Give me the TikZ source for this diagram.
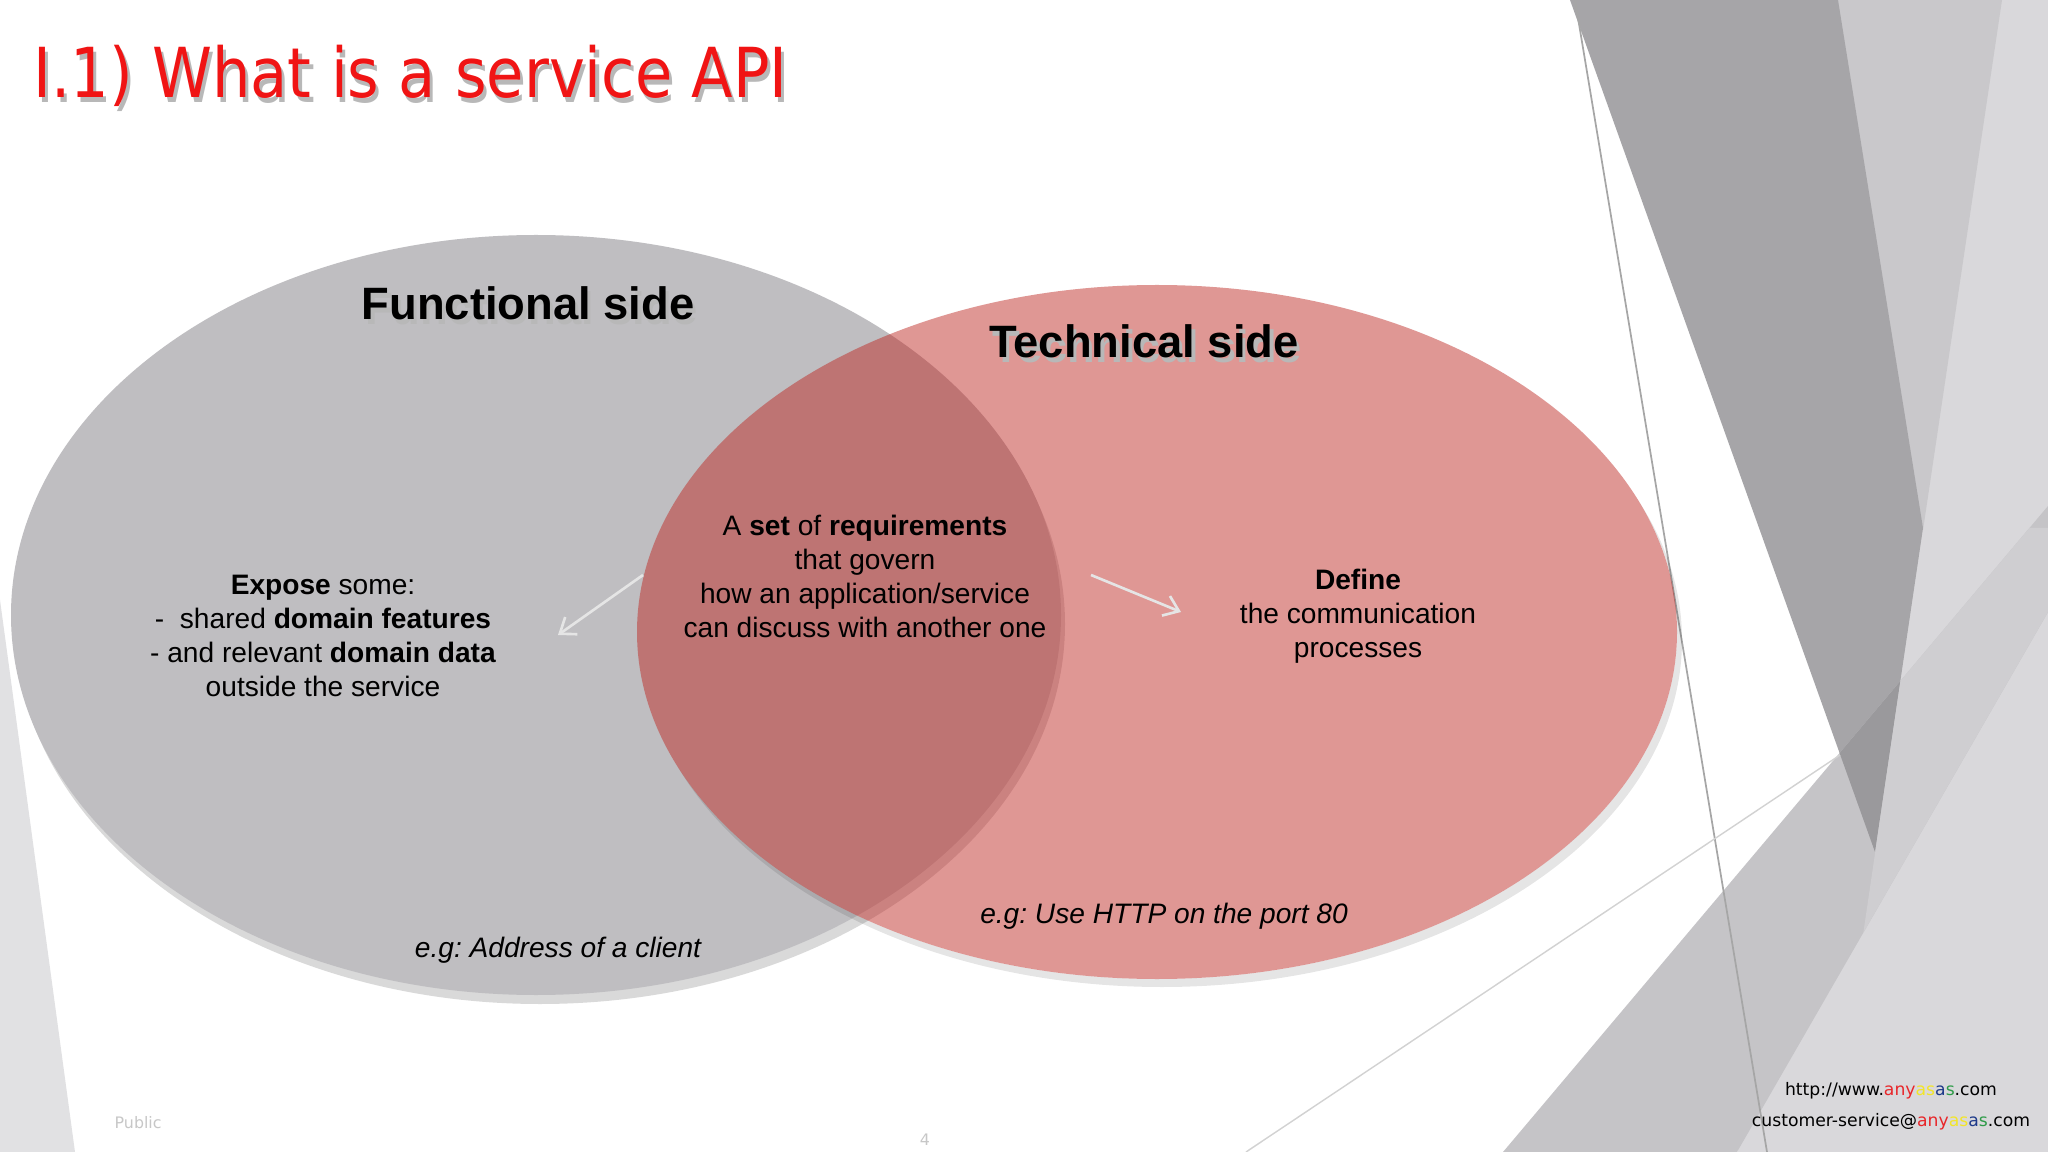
\documentclass[tikz,border=0pt]{standalone}
\usepackage{fontspec}
\setmainfont{Liberation Sans}
\newfontfamily\titlefont{DejaVu Sans}
\usetikzlibrary{arrows.meta}
\frenchspacing

\definecolor{titlered}{HTML}{F01414}
\definecolor{funcgray}{HTML}{BFBEC1}
\definecolor{techred}{HTML}{BD221D}
\definecolor{darkdeco}{HTML}{A6A5A8}
\definecolor{middeco}{HTML}{C9C8CB}
\definecolor{lightdeco}{HTML}{D9D8DB}
\definecolor{bandwhite}{HTML}{C5C4C7}
\definecolor{banddark}{HTML}{9A999C}
\definecolor{bandlight}{HTML}{CFCED1}
\definecolor{stripgray}{HTML}{E1E1E3}
\definecolor{anyred}{HTML}{E8262A}
\definecolor{anyyellow}{HTML}{F2E529}
\definecolor{anyblue}{HTML}{1E3A8A}
\definecolor{anygreen}{HTML}{2E9B48}

\newcommand\anyasas{\textcolor{anyred}{any}\textcolor{anyyellow}{as}\textcolor{anyblue}{a}\textcolor{anygreen}{s}}
\newcommand\shadetxt[1]{\rlap{\kern1pt\raisebox{-1.2pt}{\textcolor{black!28}{#1}}}#1}

\begin{document}
\begin{tikzpicture}[
        x=0.01cm, y=-0.01cm,
        title_text/.style={font=\titlefont\fontsize{19.6}{24}\selectfont,text=titlered,inner sep=0pt},
        side_title/.style={font=\fontsize{12.9}{15}\selectfont\bfseries,inner sep=0pt,anchor=base},
        body_text/.style={font=\fontsize{8}{9.7}\selectfont,align=center,inner sep=0pt,anchor=north},
        example_text/.style={font=\fontsize{8}{9.7}\selectfont\itshape,inner sep=0pt,anchor=base},
        hint_arrow/.style={line width=0.75pt,white!90!black,-{Straight Barb[length=4pt,width=6pt]}},
        footer_text/.style={font=\titlefont\fontsize{4.9}{8.8}\selectfont,inner sep=0pt},
        footer_gray/.style={font=\titlefont\fontsize{4.5}{6}\selectfont,text=black!22,inner sep=0pt}
    ]

    % Slide background
    \fill[white] (0,0) rectangle (2048,1152);
    \useasboundingbox (0,0) rectangle (2048,1152);
    \fill[stripgray] (0,600) -- (75,1152) -- (0,1152) -- cycle;

    % Decoration on the right
    \fill[lightdeco] (1837,0) -- (2048,0) -- (2048,1152) -- (1737,1152) -- (1875,852) -- cycle;
    \fill[middeco] (1837,0) -- (2002,0) -- (1923,530) -- cycle;
    \fill[darkdeco] (1570,0) -- (1838,0) -- (1923,528) -- (1875,852) -- cycle;
    \begin{scope}
        \clip (1503,1152) -- (2048,506) -- (2048,612) -- (1737,1152) -- cycle;
        \fill[bandwhite] (1400,400) rectangle (2048,1152);
        \fill[banddark] (1570,0) -- (1838,0) -- (1923,528) -- (1875,852) -- cycle;
        \fill[bandlight] (1923,528) -- (2048,528) -- (2048,1152) -- (1831,1152) -- cycle;
    \end{scope}
    \draw[gray!70,line width=0.5pt] (1575,0) -- (1767,1152);
    \draw[gray!35,line width=0.4pt] (1246,1152) -- (1840,755);

    % Functional side
    \fill[black,opacity=0.15] (540,624) ellipse [x radius=525, y radius=380];
    \fill[funcgray] (536,615) ellipse [x radius=525, y radius=380];

    % Technical side
    \begin{scope}[even odd rule]
        \clip (0,0) rectangle (2048,1152) (1157,632) ellipse [x radius=520, y radius=347];
        \fill[black,opacity=0.1] (1162,640) ellipse [x radius=520, y radius=347];
    \end{scope}
    \fill[techred,opacity=0.47] (1157,632) ellipse [x radius=520, y radius=347];

    % Title
    \node[title_text,anchor=base west] (title) at (33,98) {\scalebox{0.88}[1]{\shadetxt{I.1) What is a service API}}};

    % Texts
    \node[side_title] (functional) at (528,320) {\shadetxt{Functional side}};
    \node[side_title] (technical) at (1144,358) {\shadetxt{Technical side}};

    \node[body_text] (requirements) at (865,514) {A \textbf{set} of \textbf{requirements}\\that govern\\how an application/service\\can discuss with another one};
    \node[body_text] (expose) at (323,574) {\textbf{Expose} some:\\-~~shared \textbf{domain features}\\- and relevant \textbf{domain data}\\outside the service};
    \node[body_text] (define) at (1358,568) {\textbf{Define}\\the communication\\processes};

    \node[example_text] (client) at (558,957) {e.g: Address of a client};
    \node[example_text] (http) at (1164,923) {e.g: Use HTTP on the port 80};

    % Arrows
    \coordinate (req_left) at (643,575);
    \coordinate (to_expose) at (558,635);
    \coordinate (req_right) at (1091,575);
    \coordinate (to_define) at (1181,612);
    \draw[hint_arrow] (req_left) -- (to_expose);
    \draw[hint_arrow] (req_right) -- (to_define);

    % Footer
    \node[footer_text,align=center] (contact) at (1891,1106) {http://www.\anyasas.com\\customer-service@\anyasas.com};
    \node[footer_gray,anchor=base west] (public) at (114,1128) {Public};
    \node[footer_gray,anchor=base] (pagenum) at (925,1145) {4};

\end{tikzpicture}
\end{document}
